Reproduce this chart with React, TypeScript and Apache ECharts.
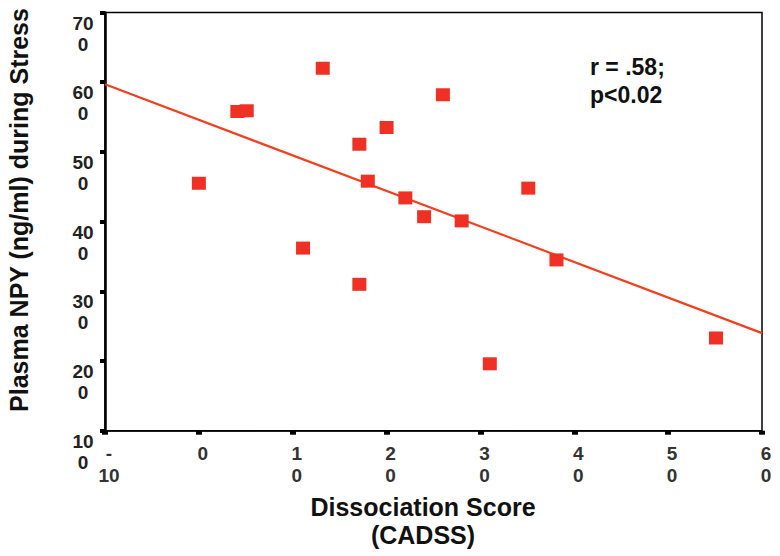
import React, { useEffect, useRef } from "react";
import * as echarts from "echarts";

// Dissociation score (CADSS) vs plasma NPY (ng/ml)
const scatterPoints: [number, number][] = [
  [0, 455],
  [4.1, 558],
  [5.1, 559],
  [13.2, 620],
  [20.0, 535],
  [17.1, 511],
  [26.0, 582],
  [18.0, 458],
  [22.0, 434],
  [24.0, 407],
  [28.0, 401],
  [11.1, 362],
  [17.1, 310],
  [35.1, 448],
  [38.1, 345],
  [31.0, 196],
  [55.1, 233],
];

// Regression line end points
const fitLine: [number, number][] = [
  [-10, 597],
  [60, 240],
];

const xTicks = { min: -10, max: 60, interval: 10 };
const yTicks = { min: 100, max: 700, interval: 100 };

const yAxisTitle = "Plasma NPY (ng/ml) during Stress";
const xAxisTitle = "Dissociation Score\n(CADSS)";
const statText = "r = .58;\np<0.02";

const FONT = "'Liberation Sans', Arial, Helvetica, sans-serif";

export default function App() {
  const ref = useRef<HTMLDivElement>(null);

  useEffect(() => {
    if (!ref.current) return;
    const chart = echarts.init(ref.current, undefined, { renderer: "svg" });
    chart.setOption({
      animation: false,
      backgroundColor: "#ffffff",
      grid: {
        left: 105,
        right: 18,
        top: 12.5,
        bottom: 125.3,
        show: true,
        borderColor: "#000",
        borderWidth: 1.5,
        containLabel: false,
        outerBoundsMode: "none",
      },
      xAxis: {
        type: "value",
        min: xTicks.min,
        max: xTicks.max,
        interval: xTicks.interval,
        splitLine: { show: false },
        axisLine: { show: true, onZero: false, lineStyle: { color: "#000", width: 1.5 } },
        axisTick: { show: true, length: 4, lineStyle: { color: "#000", width: 6 } },
        axisLabel: {
          color: "#333",
          fontFamily: FONT,
          fontWeight: "bold",
          fontSize: 19,
          lineHeight: 22,
          margin: 12,
          padding: [0, 0, 0, 8],
          showMinLabel: true,
          showMaxLabel: true,
          hideOverlap: false,
          formatter: (v: number) => {
            const s = String(v);
            return s.length > 1 ? s[0] + "\n" + s.slice(1) : s;
          },
        },
      },
      yAxis: {
        type: "value",
        min: yTicks.min,
        max: yTicks.max,
        interval: yTicks.interval,
        splitLine: { show: false },
        axisLine: { show: true, onZero: false, lineStyle: { color: "#000", width: 2.5 } },
        axisTick: { show: true, length: 5, lineStyle: { color: "#000", width: 4 } },
        axisLabel: {
          color: "#222",
          fontFamily: FONT,
          fontWeight: "bold",
          fontSize: 19,
          lineHeight: 21,
          margin: 22,
          align: "center",
          verticalAlign: "top",
          showMinLabel: true,
          showMaxLabel: true,
          hideOverlap: false,
          formatter: (v: number) => {
            const s = String(v);
            return s.slice(0, 2) + "\n" + s.slice(2);
          },
        },
      },
      series: [
        {
          type: "line",
          data: fitLine,
          showSymbol: false,
          symbol: "none",
          lineStyle: { color: "#f2401f", width: 2.2 },
          silent: true,
          z: 2,
        },
        {
          type: "scatter",
          data: scatterPoints,
          symbol: "rect",
          symbolSize: [14, 13],
          itemStyle: { color: "#ee3124", opacity: 1 },
          z: 3,
        },
      ],
      graphic: [
        {
          type: "text",
          x: 19,
          y: 210,
          rotation: Math.PI / 2,
          style: {
            text: yAxisTitle,
            fontFamily: FONT,
            fontWeight: "bold",
            fontSize: 25,
            fill: "#111",
            align: "center",
            verticalAlign: "middle",
          },
        },
        {
          type: "text",
          x: 423,
          y: 521,
          style: {
            text: xAxisTitle,
            fontFamily: FONT,
            fontWeight: "bold",
            fontSize: 25,
            lineHeight: 28,
            fill: "#111",
            align: "center",
            verticalAlign: "middle",
          },
        },
        {
          type: "text",
          x: 590,
          y: 81,
          style: {
            text: statText,
            fontFamily: FONT,
            fontWeight: "bold",
            fontSize: 23,
            lineHeight: 28,
            fill: "#111",
            align: "left",
            verticalAlign: "middle",
          },
        },
      ],
    });
    return () => chart.dispose();
  }, []);

  return (
    <div
      ref={ref}
      style={{ position: "absolute", left: 0, top: 0, width: 780, height: 556 }}
    />
  );
}
